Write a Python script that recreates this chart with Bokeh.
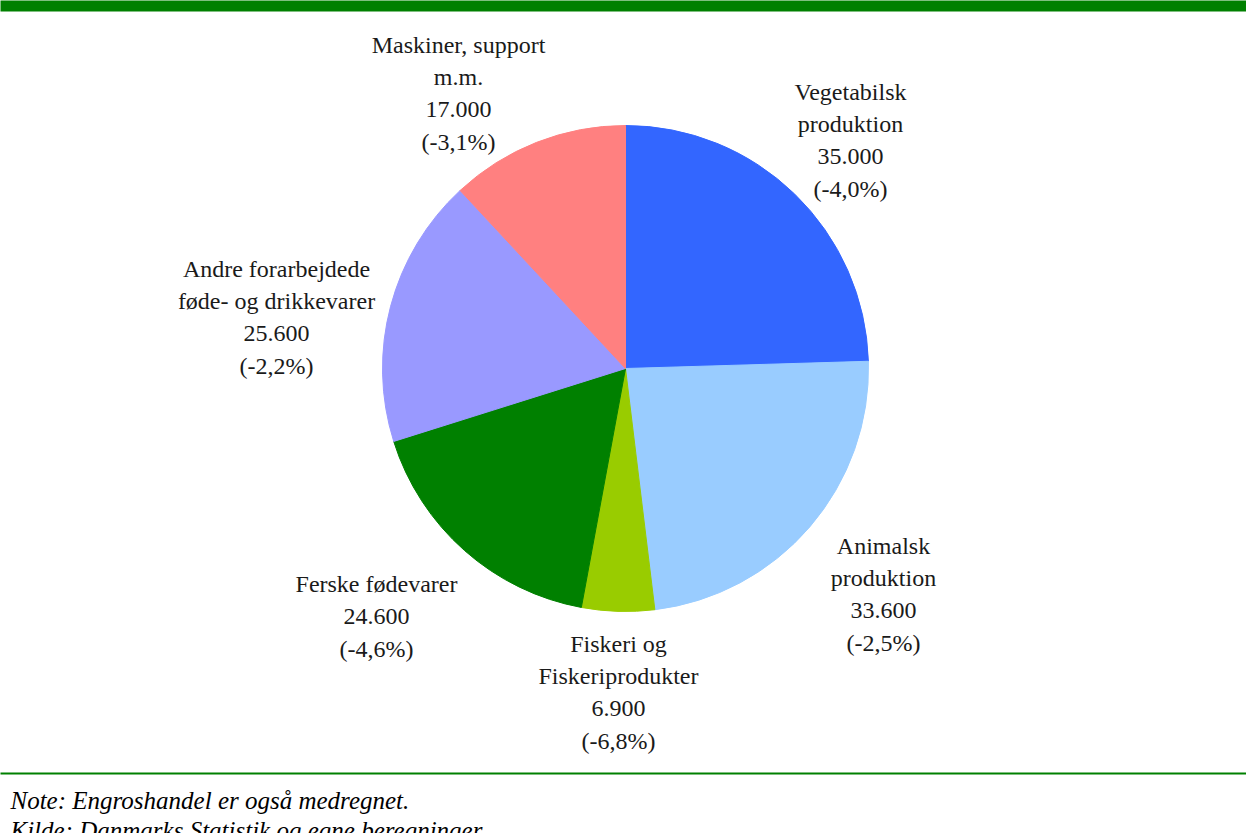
import math
from bokeh.plotting import figure
from bokeh.models import Range1d
from bokeh.core.properties import value
from bokeh.embed import file_html
from bokeh.resources import INLINE

# ---- data ----
categories = ["Vegetabilsk\nproduktion", "Animalsk\nproduktion", "Fiskeri og\nFiskeriprodukter",
              "Ferske fødevarer", "Andre forarbejdede\nføde- og drikkevarer", "Maskiner, support\nm.m."]
employees = [35000, 33600, 6900, 24600, 25600, 17000]
changes = [-4.0, -2.5, -6.8, -4.6, -2.2, -3.1]
colors = ["#3366FF", "#99CCFF", "#99CC00", "#008000", "#9999FF", "#FF8080"]
notes = ["Note: Engroshandel er også medregnet.", "Kilde: Danmarks Statistik og egne beregninger."]

# ---- layout ----
W, H = 1246, 833
CX, CY, R = 625, 368, 243          # pie centre/radius in pixels (y from top)
label_anchor = [(850, 91), (883, 545), (618, 643), (376, 583), (276, 268), (458, 44)]
LINE = 32.5
F = "Liberation Serif"

def fy(y):
    return H - y

p = figure(width=W, height=H, x_range=Range1d(0, W), y_range=Range1d(0, H),
           output_backend="svg", toolbar_location=None, min_border=0)
p.axis.visible = False
p.grid.visible = False
p.outline_line_color = None

def fmt_num(v):
    return f"{v:,}".replace(",", ".")

def fmt_pct(c):
    return "(" + f"{c:.1f}".replace(".", ",") + "%)"

# texts
p.text(x=[10], y=[fy(800)], text=[notes[0]], text_font=value(F), text_font_size="25px",
       text_font_style="italic", text_baseline="alphabetic")
p.text(x=[10], y=[fy(830)], text=[notes[1]], text_font=value(F), text_font_size="25px",
       text_font_style="italic", text_baseline="alphabetic")

for cat, v, c, (ax, ay) in zip(categories, employees, changes, label_anchor):
    lines = cat.split("\n") + [fmt_num(v), fmt_pct(c)]
    for i, t in enumerate(lines):
        p.text(x=[ax], y=[fy(ay + i * LINE)], text=[t], text_font=value(F), text_font_size="24px",
               text_align="center", text_baseline="middle", text_color="#1a1a1a")

# pie: one wedge per slice
total = float(sum(employees))
cum = 0.0
for v, col in zip(employees, colors):
    a0 = math.pi / 2 - cum / total * 2 * math.pi
    cum += v
    a1 = math.pi / 2 - cum / total * 2 * math.pi
    p.wedge(x=[CX], y=[fy(CY)], radius=R, radius_units="screen",
            start_angle=a1, end_angle=a0, color=col)

# top banner and bottom rule as thick lines
p.line(x=[-20, W + 20], y=[H, H], line_color="#008000", line_width=22)
p.line(x=[-20, W + 20], y=[fy(773), fy(773)], line_color="#008000", line_width=2)

open("out.html", "w").write(file_html(p, INLINE))
